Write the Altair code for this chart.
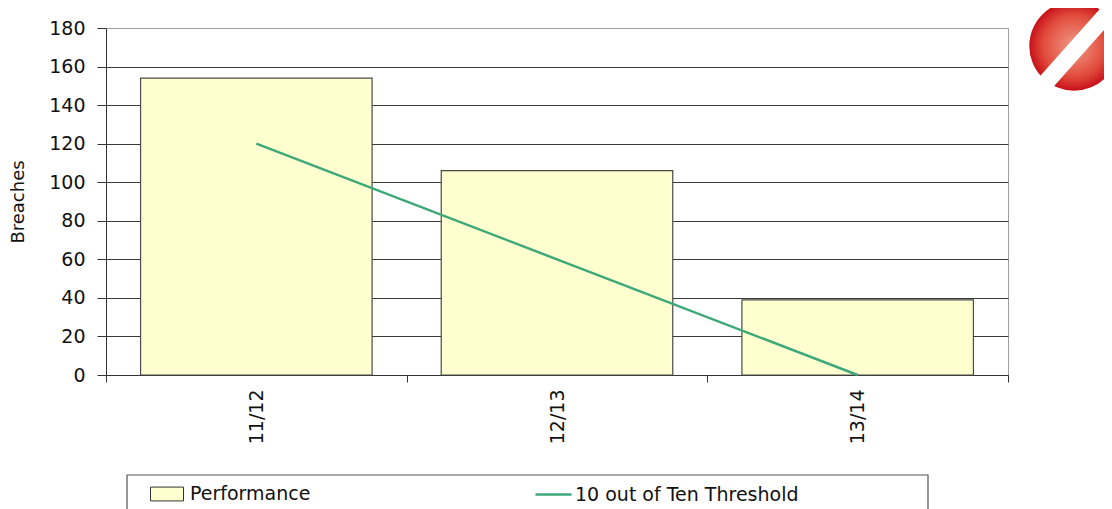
import altair as alt
import pandas as pd

years = ["11/12", "12/13", "13/14"]
breaches = [154, 106, 39]
threshold = [120, 60, 0]
y_ticks = [0, 20, 40, 60, 80, 100, 120, 140, 160, 180]
series_bar = "Performance"
series_line = "10 out of Ten Threshold"

df = pd.DataFrame({
    "year": years,
    "breaches": breaches,
    "threshold": threshold,
    "s1": [series_bar] * 3,
    "s2": [series_line] * 3,
})
one = pd.DataFrame({"a": [0]})

FONT = "DejaVu Sans"
TXT = "#111111"

x_axis = alt.Axis(labelAngle=270, labelFontSize=19, labelColor=TXT,
                  tickBand="extent", tickSize=7, tickColor="#333", domainColor="#333",
                  labelPadding=7, grid=False)
y_axis = alt.Axis(
    values=y_ticks, tickCount=10, labelOverlap=False, title="Breaches", titleFontSize=18,
    titleFontWeight="normal", titleColor=TXT, titlePadding=21, labelFontSize=19,
    labelColor=TXT, tickSize=9, tickColor="#333", domainColor="#333", labelPadding=12,
    gridColor={"condition": {"test": "datum.value === 180", "value": "#a0a0a0"}, "value": "#3a3a3a"},
)
x_scale = alt.Scale(domain=years, paddingInner=0, paddingOuter=0)
y_scale = alt.Scale(domain=[0, 180], nice=False)

bars = alt.Chart(df).mark_bar(stroke="#4a4a4a", strokeWidth=1.2,
                              width=alt.RelativeBandSize(0.77)).encode(
    x=alt.X("year:N", sort=years, title=None, scale=x_scale, axis=x_axis),
    y=alt.Y("breaches:Q", scale=y_scale, axis=y_axis),
    fill=alt.Fill("s1:N", scale=alt.Scale(domain=[series_bar], range=["#FFFFD0"]),
                  legend=alt.Legend(title=None, orient="none", legendX=44, legendY=449,
                                    symbolType="M-1,-0.42H1V0.42H-1Z", symbolSize=1089,
                                    symbolStrokeColor="#333", symbolStrokeWidth=1,
                                    symbolOpacity=1, labelFontSize=19, labelOffset=6,
                                    labelLimit=400, labelColor=TXT, padding=0)),
)

line = alt.Chart(df).mark_line(strokeWidth=2.5).encode(
    x=alt.X("year:N", sort=years, title=None, scale=x_scale, axis=x_axis),
    y=alt.Y("threshold:Q", scale=y_scale, axis=y_axis),
    stroke=alt.Stroke("s2:N", scale=alt.Scale(domain=[series_line], range=["#3DA878"]),
                      legend=alt.Legend(title=None, orient="none", legendX=428, legendY=447,
                                        symbolType="stroke", symbolSize=1296,
                                        symbolStrokeWidth=2.5, labelFontSize=19,
                                        labelOffset=2, labelLimit=400, labelColor=TXT,
                                        padding=0)),
)

legend_box = alt.Chart(one).mark_rect(fill="transparent", stroke="#555", strokeWidth=1.2).encode(
    x=alt.value(21), x2=alt.value(822), y=alt.value(447), y2=alt.value(520),
)

logo = alt.Chart(one).mark_point(
    shape="circle", filled=True, size=8000, opacity=1,
    fill={"gradient": "radial", "x1": 0.5, "y1": 0.5, "r1": 0, "x2": 0.5, "y2": 0.5, "r2": 0.5,
          "stops": [{"offset": 0, "color": "#F29A88"}, {"offset": 0.7, "color": "#E04A3A"},
                    {"offset": 1, "color": "#C8101A"}]},
).encode(x=alt.value(968), y=alt.value(18))

logo_band = alt.Chart(one).mark_rule(stroke="white", strokeWidth=17, strokeCap="butt").encode(
    x=alt.value(926), y=alt.value(70), x2=alt.value(1011), y2=alt.value(-25.5),
)

chart = alt.layer(bars, line, legend_box, logo, logo_band).resolve_legend(
    fill="independent", stroke="independent"
).properties(
    width=902, height=347,
    padding={"left": 98, "top": 20, "right": 96, "bottom": 134},
    autosize=alt.AutoSizeParams(type="none"),
).configure(font=FONT).configure_view(stroke="#a0a0a0", strokeWidth=1)

chart.save("out.html", embed_options={"renderer": "svg", "actions": False})
